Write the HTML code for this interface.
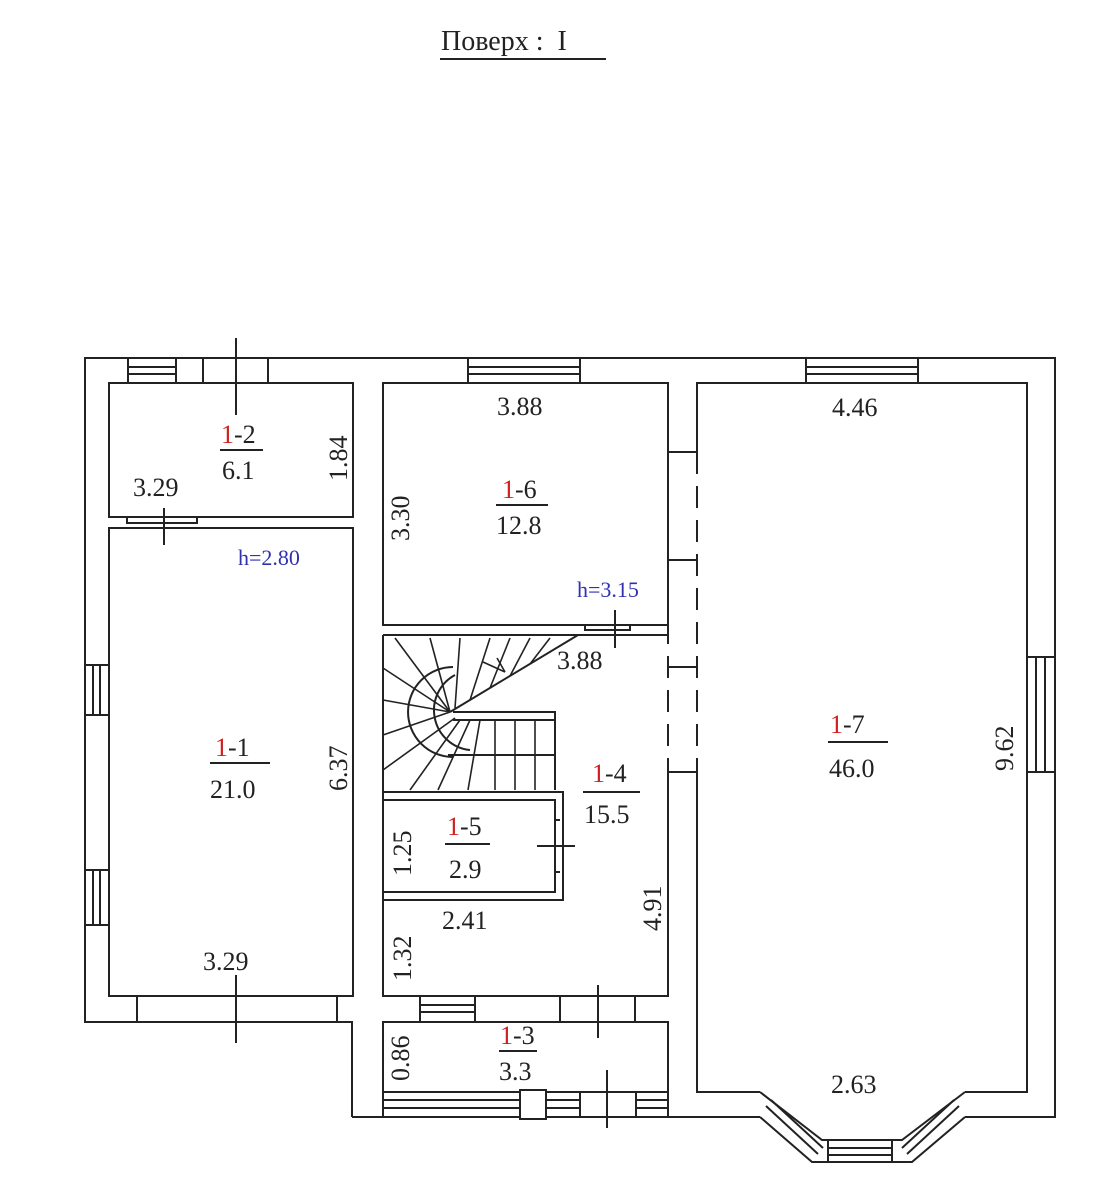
<!DOCTYPE html>
<html><head><meta charset="utf-8"><style>
html,body{margin:0;padding:0;background:#fff}
svg{display:block}
text{font-family:"Liberation Serif","DejaVu Serif",serif;fill:#222}
.n{font-size:26px}
.r{fill:#d02020}
.b{fill:#3030b0;font-size:22px}
</style></head><body>
<svg width="1111" height="1200" viewBox="0 0 1111 1200" xmlns="http://www.w3.org/2000/svg">
<text x="441" y="50" font-size="28" xml:space="preserve">Поверх :  I</text>
<line x1="440" y1="59" x2="606" y2="59" stroke="#222" stroke-width="2"/>
<g fill="none" stroke="#222" stroke-width="2">
<polyline points="352,1117 352,1022 85,1022 85,358 1055,358 1055,1117 965,1117"/>
<polyline points="352,1117 760,1117"/>
<polyline points="760,1117 812,1162 912,1162 965,1117"/>
<polyline points="760,1092 822,1140 902,1140 965,1092"/>
<rect x="109" y="383" width="244" height="134"/>
<rect x="109" y="528" width="244" height="468"/>
<rect x="383" y="383" width="285" height="242"/>
<polyline points="668,452 668,383"/>
<polyline points="383,635 668,635 668,452"/>
<polyline points="668,772 668,996 383,996 383,635"/>
<polyline points="383,1092 383,1022 668,1022 668,1092 383,1092"/>
<polyline points="697,452 697,383 1027,383 1027,1092 965,1092"/>
<polyline points="697,772 697,1092 760,1092"/>
<g stroke-dasharray="22,12"><line x1="668" y1="452" x2="668" y2="772"/><line x1="697" y1="452" x2="697" y2="772"/></g>
<line x1="668" y1="452" x2="697" y2="452"/><line x1="668" y1="560" x2="697" y2="560"/>
<line x1="668" y1="667" x2="697" y2="667"/><line x1="668" y1="772" x2="697" y2="772"/>
<rect x="383" y="800" width="172" height="92"/>
<polyline points="383,792 563,792 563,900 383,900"/>
<rect x="128" y="358" width="48" height="25"/><line x1="128" y1="367" x2="176" y2="367"/><line x1="128" y1="374" x2="176" y2="374"/>
<rect x="203" y="358" width="65" height="25"/><line x1="236" y1="338" x2="236" y2="415"/>
<rect x="468" y="358" width="112" height="25"/><line x1="468" y1="367" x2="580" y2="367"/><line x1="468" y1="374" x2="580" y2="374"/>
<rect x="806" y="358" width="112" height="25"/><line x1="806" y1="367" x2="918" y2="367"/><line x1="806" y1="374" x2="918" y2="374"/>
<rect x="85" y="665" width="24" height="50"/><line x1="93" y1="665" x2="93" y2="715"/><line x1="100" y1="665" x2="100" y2="715"/>
<rect x="85" y="870" width="24" height="55"/><line x1="93" y1="870" x2="93" y2="925"/><line x1="100" y1="870" x2="100" y2="925"/>
<rect x="1027" y="657" width="28" height="115"/><line x1="1036" y1="657" x2="1036" y2="772"/><line x1="1045" y1="657" x2="1045" y2="772"/>
<polyline points="127,517 127,523 197,523 197,517"/><line x1="164" y1="508" x2="164" y2="545"/>
<rect x="137" y="996" width="200" height="26"/><line x1="236" y1="975" x2="236" y2="1043"/>
<rect x="420" y="996" width="55" height="26"/><line x1="420" y1="1005" x2="475" y2="1005"/><line x1="420" y1="1012" x2="475" y2="1012"/>
<rect x="560" y="996" width="75" height="26"/><line x1="598" y1="985" x2="598" y2="1038"/>
<polyline points="585,625 585,630 630,630 630,625"/><line x1="615" y1="610" x2="615" y2="648"/>
<line x1="555" y1="820" x2="560" y2="820"/><line x1="555" y1="872" x2="560" y2="872"/>
<line x1="537" y1="846" x2="575" y2="846"/>
<rect x="383" y="1092" width="285" height="25"/>
<line x1="383" y1="1100" x2="668" y2="1100"/><line x1="383" y1="1108" x2="668" y2="1108"/>
<rect x="520" y="1090" width="26" height="29" fill="#fff"/>
<rect x="580" y="1092" width="56" height="25" fill="#fff"/><line x1="607" y1="1070" x2="607" y2="1128"/>
<line x1="771" y1="1100" x2="823" y2="1148"/><line x1="766" y1="1106" x2="818" y2="1154"/>
<line x1="954" y1="1100" x2="902" y2="1148"/><line x1="959" y1="1106" x2="907" y2="1154"/>
<rect x="828" y="1140" width="64" height="22"/><line x1="828" y1="1148" x2="892" y2="1148"/><line x1="828" y1="1155" x2="892" y2="1155"/>
<polyline points="453,712 555,712 555,790"/>
<line x1="453" y1="720" x2="555" y2="720"/>
<line x1="450" y1="712" x2="578" y2="635"/>
<path d="M470 750 A40 40 0 0 1 455 675"/>
<path d="M453 712 m0 -45 a45 45 0 0 0 0 90"/>
<line x1="448" y1="755" x2="555" y2="755"/>
<g stroke-width="1.6">
<line x1="450" y1="712" x2="395" y2="638"/><line x1="450" y1="712" x2="430" y2="638"/><line x1="455" y1="708" x2="460" y2="638"/>
<line x1="470" y1="700" x2="490" y2="638"/><line x1="490" y1="688" x2="510" y2="638"/><line x1="510" y1="676" x2="530" y2="638"/>
<line x1="530" y1="664" x2="550" y2="638"/><line x1="450" y1="712" x2="383" y2="668"/><line x1="450" y1="712" x2="383" y2="700"/>
<line x1="450" y1="712" x2="383" y2="735"/><line x1="455" y1="718" x2="383" y2="770"/><line x1="460" y1="720" x2="410" y2="790"/>
<line x1="470" y1="720" x2="438" y2="790"/><line x1="480" y1="720" x2="468" y2="790"/><line x1="495" y1="720" x2="495" y2="790"/>
<line x1="515" y1="720" x2="515" y2="790"/><line x1="535" y1="720" x2="535" y2="790"/>
<line x1="483" y1="662" x2="505" y2="672"/><line x1="497" y1="658" x2="505" y2="672"/>
</g>
</g>
<g class="n">
<text x="221" y="443"><tspan class="r">1</tspan>-2</text><line x1="220" y1="450" x2="263" y2="450" stroke="#222" stroke-width="2"/><text x="222" y="479">6.1</text>
<text x="133" y="496">3.29</text>
<text transform="translate(347,481) rotate(-90)">1.84</text>
<text x="497" y="415">3.88</text>
<text transform="translate(409,541) rotate(-90)">3.30</text>
<text x="502" y="498"><tspan class="r">1</tspan>-6</text><line x1="496" y1="505" x2="548" y2="505" stroke="#222" stroke-width="2"/><text x="496" y="534">12.8</text>
<text x="215" y="756"><tspan class="r">1</tspan>-1</text><line x1="210" y1="763" x2="270" y2="763" stroke="#222" stroke-width="2"/><text x="210" y="798">21.0</text>
<text transform="translate(347,791) rotate(-90)">6.37</text>
<text x="203" y="970">3.29</text>
<text x="557" y="669">3.88</text>
<text x="592" y="782"><tspan class="r">1</tspan>-4</text><line x1="583" y1="792" x2="640" y2="792" stroke="#222" stroke-width="2"/><text x="584" y="823">15.5</text>
<text x="447" y="835"><tspan class="r">1</tspan>-5</text><line x1="445" y1="844" x2="490" y2="844" stroke="#222" stroke-width="2"/><text x="449" y="878">2.9</text>
<text transform="translate(411,876) rotate(-90)">1.25</text>
<text x="442" y="929">2.41</text>
<text transform="translate(411,981) rotate(-90)">1.32</text>
<text transform="translate(661,931) rotate(-90)">4.91</text>
<text x="500" y="1044"><tspan class="r">1</tspan>-3</text><line x1="499" y1="1051" x2="537" y2="1051" stroke="#222" stroke-width="2"/><text x="499" y="1080">3.3</text>
<text transform="translate(409,1081) rotate(-90)">0.86</text>
<text x="832" y="416">4.46</text>
<text x="830" y="733"><tspan class="r">1</tspan>-7</text><line x1="828" y1="742" x2="888" y2="742" stroke="#222" stroke-width="2"/><text x="829" y="777">46.0</text>
<text transform="translate(1013,771) rotate(-90)">9.62</text>
<text x="831" y="1093">2.63</text>
</g>
<text class="b" x="238" y="565">h=2.80</text>
<text class="b" x="577" y="597">h=3.15</text>
</svg>
</body></html>
